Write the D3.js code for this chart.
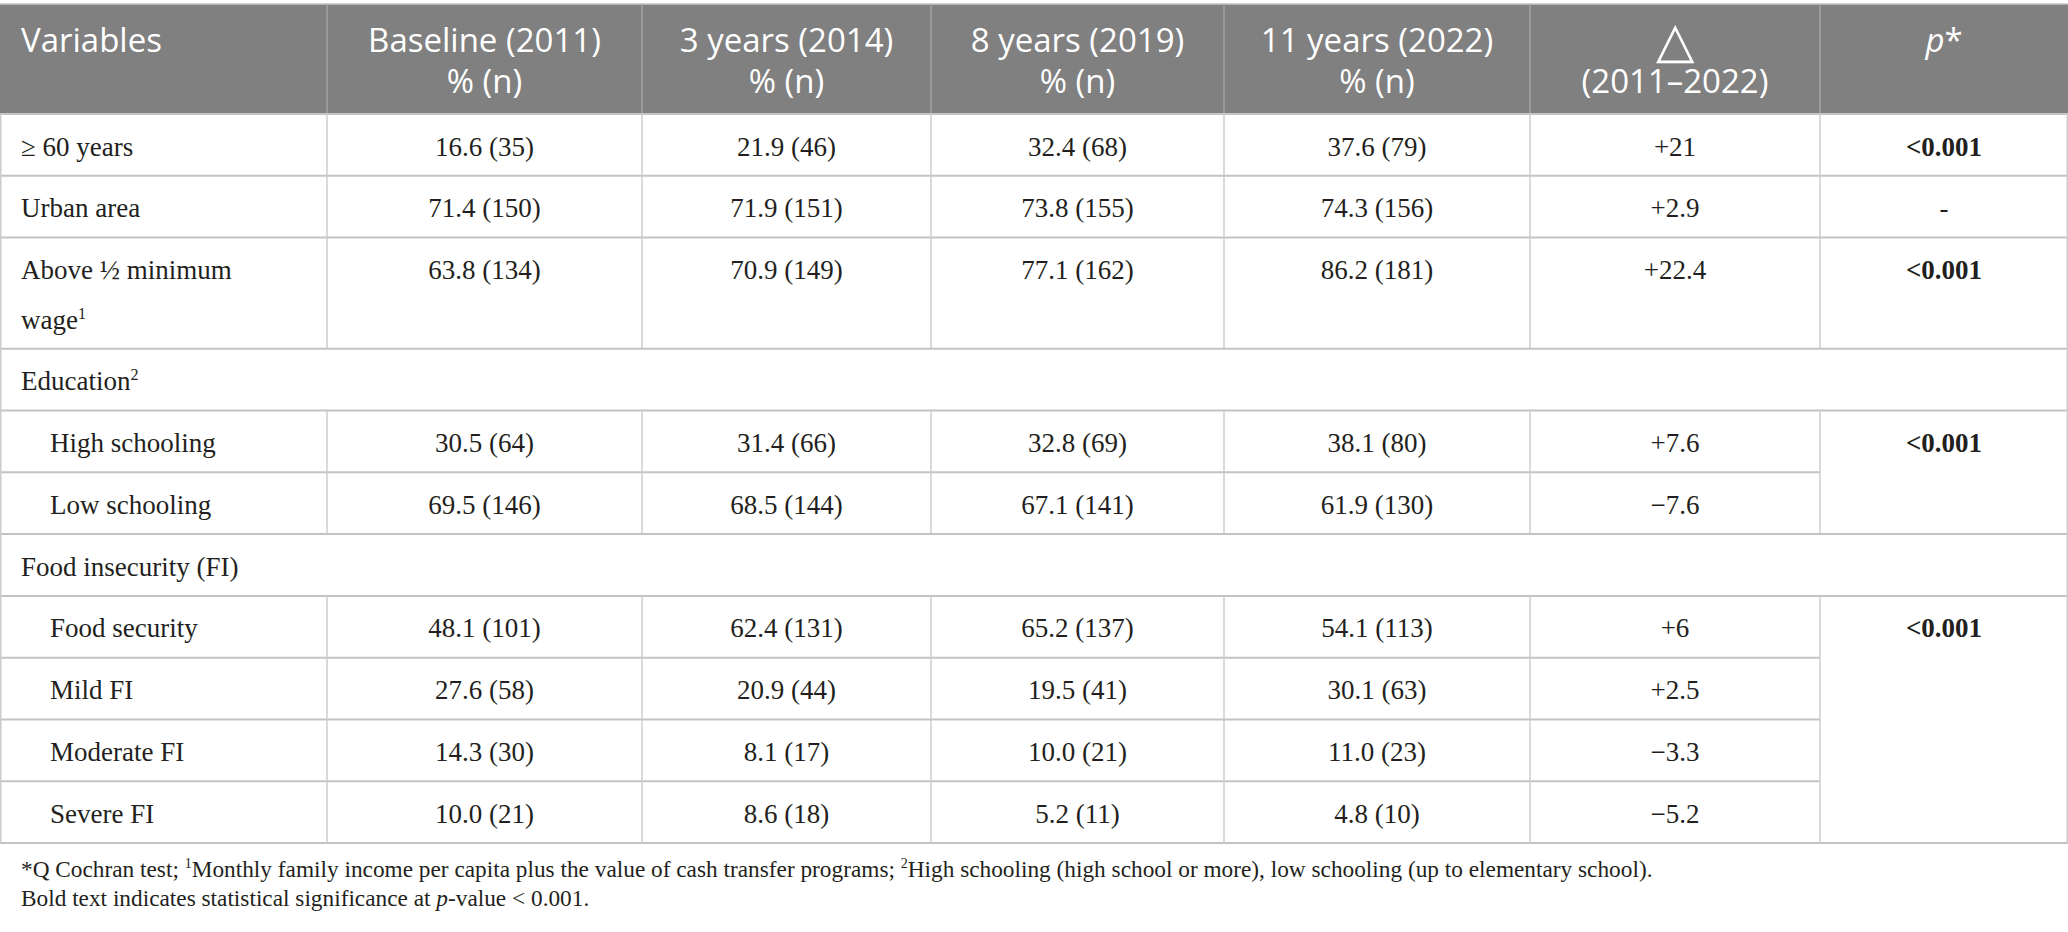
<!DOCTYPE html>
<html>
<head>
<meta charset="utf-8">
<script src="https://cdn.jsdelivr.net/npm/d3@7"></script>
<style>
body { margin: 0; background: #fff; }
svg { display: block; }
.hd { font-family: "Open Sans", sans-serif; fill: #fff; font-size: 33px; }
.bd { font-family: "Liberation Serif", serif; fill: #231f20; font-size: 27px; }
.ft { font-family: "Liberation Serif", serif; fill: #231f20; font-size: 23.3px; }
</style>
</head>
<body>
<svg></svg>
<script>
// table content
const columns = ["Variables", "Baseline (2011)", "3 years (2014)", "8 years (2019)", "11 years (2022)", "△", "p"]
const columnSub = ["", "% (n)", "% (n)", "% (n)", "% (n)", "(2011–2022)", ""]

const variables = ["≥ 60 years", "Urban area", "Above ½ minimum\nwage", "Education", "High schooling", "Low schooling",
    "Food insecurity (FI)", "Food security", "Mild FI", "Moderate FI", "Severe FI"]
const varSup = ["", "", "1", "2", "", "", "", "", "", "", ""]
const rowKind = ["row", "row", "row", "group", "sub", "sub", "group", "sub", "sub", "sub", "sub"]

const baseline2011 = ["16.6 (35)", "71.4 (150)", "63.8 (134)", "", "30.5 (64)", "69.5 (146)", "", "48.1 (101)", "27.6 (58)", "14.3 (30)", "10.0 (21)"]
const years2014 = ["21.9 (46)", "71.9 (151)", "70.9 (149)", "", "31.4 (66)", "68.5 (144)", "", "62.4 (131)", "20.9 (44)", "8.1 (17)", "8.6 (18)"]
const years2019 = ["32.4 (68)", "73.8 (155)", "77.1 (162)", "", "32.8 (69)", "67.1 (141)", "", "65.2 (137)", "19.5 (41)", "10.0 (21)", "5.2 (11)"]
const years2022 = ["37.6 (79)", "74.3 (156)", "86.2 (181)", "", "38.1 (80)", "61.9 (130)", "", "54.1 (113)", "30.1 (63)", "11.0 (23)", "4.8 (10)"]
const delta = ["+21", "+2.9", "+22.4", "", "+7.6", "−7.6", "", "+6", "+2.5", "−3.3", "−5.2"]
const pValue = ["<0.001", "-", "<0.001", "", "<0.001", "", "", "<0.001", "", "", ""]
const pSpan = [1, 1, 1, 0, 2, 0, 0, 4, 0, 0, 0]
const pBold = [true, false, true, false, true, false, false, true, false, false, false]

const footLine1 = [
    { t: "*Q Cochran test; " }, { t: "1", sup: true },
    { t: "Monthly family income per capita plus the value of cash transfer programs; " }, { t: "2", sup: true },
    { t: "High schooling (high school or more), low schooling (up to elementary school)." }
]
const footLine2 = [
    { t: "Bold text indicates statistical significance at " }, { t: "p", it: true }, { t: "-value < 0.001." }
]

const W = 2068, H = 932
const svg = d3.select("svg").attr("width", W).attr("height", H)

const colEdges = [0, 327, 642, 931, 1224, 1530, 1820, 2068]
const xLeft = d3.scaleOrdinal().domain(d3.range(7)).range(colEdges.slice(0, 7))
const xRight = d3.scaleOrdinal().domain(d3.range(7)).range(colEdges.slice(1))
const xMid = i => (xLeft(i) + xRight(i)) / 2

const lineCount = variables.map(v => v.split("\n").length)
const units = lineCount.map(n => 1 + (n - 1) * 0.8)
const cum = [0]
units.forEach(u => cum.push(cum[cum.length - 1] + u))
const y = d3.scaleLinear().domain([0, cum[cum.length - 1]]).range([114, 843])

const dataCols = [baseline2011, years2014, years2019, years2022, delta]

// header band
svg.append("rect")
    .attr("x", 0).attr("y", 4)
    .attr("width", W).attr("height", 110)
    .attr("fill", "#808080")

svg.append("line")
    .attr("x1", 0).attr("x2", W).attr("y1", 4).attr("y2", 4)
    .attr("stroke", "#c4c4c4").attr("stroke-width", 1.5)

svg.selectAll("line.hsep")
    .data(colEdges.slice(1, 7))
    .enter()
    .append("line")
    .attr("class", "hsep")
    .attr("x1", d => d).attr("x2", d => d)
    .attr("y1", 4).attr("y2", 114)
    .attr("stroke", "#a3a3a3").attr("stroke-width", 1.5)

columns.forEach((c, i) => {
    const t = svg.append("text")
        .attr("class", "hd")
        .attr("x", i == 0 ? 21 : xMid(i))
        .attr("y", 52)
        .style("text-anchor", i == 0 ? "start" : "middle")
    if (i == 6) {
        t.append("tspan").style("font-style", "italic").text(c)
        t.append("tspan").text("*")
    } else if (i == 5) {
        t.attr("y", 57).style("font-family", "DejaVu Sans").style("font-size", "50px").style("font-weight", 200).text(c)
    } else {
        t.text(c)
    }
    if (columnSub[i]) {
        svg.append("text")
            .attr("class", "hd")
            .attr("x", xMid(i))
            .attr("y", 93)
            .style("text-anchor", "middle")
            .text(columnSub[i])
    }
})

// grid lines
const gridH = "#c3c3c3", gridV = "#cbcbcb"

svg.append("line")
    .attr("x1", 0).attr("x2", W).attr("y1", 114).attr("y2", 114)
    .attr("stroke", gridH).attr("stroke-width", 2)

// rows that sit inside a p-value span, and not at its end
const spanOpen = variables.map(() => false)
pSpan.forEach((s, r) => { for (let k = r; k < r + s - 1; k++) spanOpen[k] = true })

variables.forEach((v, r) => {
    const top = y(cum[r]), bottom = y(cum[r + 1])
    svg.append("line")
        .attr("x1", 0).attr("x2", spanOpen[r] ? colEdges[6] : W)
        .attr("y1", bottom).attr("y2", bottom)
        .attr("stroke", gridH).attr("stroke-width", 2)
    if (rowKind[r] != "group") {
        svg.selectAll(null)
            .data(colEdges.slice(1, 7))
            .enter()
            .append("line")
            .attr("x1", d => d).attr("x2", d => d)
            .attr("y1", top).attr("y2", bottom)
            .attr("stroke", gridV).attr("stroke-width", 1.4)
    }
})

svg.selectAll("line.outer")
    .data([0.75, W - 0.75])
    .enter()
    .append("line")
    .attr("class", "outer")
    .attr("x1", d => d).attr("x2", d => d)
    .attr("y1", 114).attr("y2", 843)
    .attr("stroke", gridV).attr("stroke-width", 1.5)

// body text
variables.forEach((v, r) => {
    const top = y(cum[r])
    const base = top + 41.5
    const lines = v.split("\n")
    lines.forEach((ln, k) => {
        const t = svg.append("text")
            .attr("class", "bd")
            .attr("x", rowKind[r] == "sub" ? 50 : 21)
            .attr("y", base + k * 50)
        t.append("tspan").text(ln)
        if (k == lines.length - 1 && varSup[r]) {
            t.append("tspan")
                .attr("dy", -10)
                .style("font-size", "16px")
                .text(varSup[r])
        }
    })
    if (rowKind[r] == "group") return
    dataCols.forEach((col, j) => {
        svg.append("text")
            .attr("class", "bd")
            .attr("x", xMid(j + 1))
            .attr("y", base)
            .style("text-anchor", "middle")
            .text(col[r])
    })
    if (pSpan[r] > 0) {
        svg.append("text")
            .attr("class", "bd")
            .attr("x", xMid(6))
            .attr("y", base)
            .style("text-anchor", "middle")
            .style("font-weight", pBold[r] ? "bold" : "normal")
            .text(pValue[r])
    }
})

// footnotes
const footer = (segs, yy) => {
    const t = svg.append("text").attr("class", "ft").attr("x", 21).attr("y", yy)
    let raised = false
    segs.forEach(s => {
        const ts = t.append("tspan").text(s.t)
        if (s.sup) {
            ts.attr("dy", -9).style("font-size", "14px")
            raised = true
        } else {
            if (raised) { ts.attr("dy", 9); raised = false }
            if (s.it) ts.style("font-style", "italic")
        }
    })
}
footer(footLine1, 877)
footer(footLine2, 906)
</script>
</body>
</html>
